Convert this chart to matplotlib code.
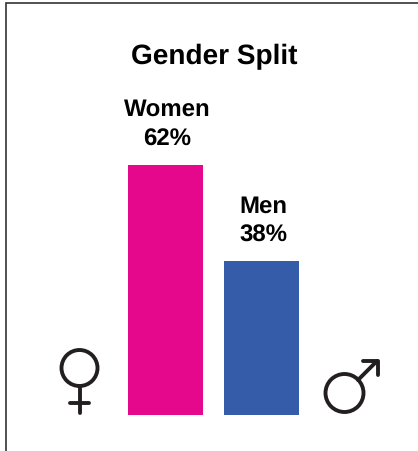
import matplotlib
matplotlib.use("Agg")
import matplotlib.pyplot as plt
from matplotlib.patches import Circle

plt.rcParams['font.family'] = ['Liberation Sans', 'DejaVu Sans']
plt.rcParams['text.hinting'] = 'no_hinting'
plt.rcParams['text.hinting_factor'] = 1

categories = ["Women", "Men"]
shares = [62, 38]
bar_colors = ["#e5078c", "#355ca8"]

W, H = 418, 452
ink = "#231f20"

fig = plt.figure(figsize=(W / 100, H / 100), dpi=100)

# bars on a data axes, baseline and spacing lined up with the picture
ax = fig.add_axes([0, 0, 1, 1])
x_unit = 96.0
y_unit = 4.03
x0 = 165.5
base = 415.5
ax.set_xlim(-x0 / x_unit, (W - x0) / x_unit)
ax.set_ylim(-(H - base) / y_unit, base / y_unit)
ax.axis("off")
positions = range(len(categories))
ax.bar(positions, shares, width=75 / x_unit, color=bar_colors, linewidth=0)

for i, (name, val) in enumerate(zip(categories, shares)):
    ax.annotate(f"{name}\n{val}%", (i, val), xytext=(1.2, 11), textcoords="offset points",
                ha="center", va="bottom", fontsize=17, fontweight="bold",
                color="black", linespacing=1.4)

# overlay in pixels for frame, title and symbols
ov = fig.add_axes([0, 0, 1, 1])
ov.set_xlim(0, W)
ov.set_ylim(H, 0)
ov.axis("off")
ov.patch.set_alpha(0)

ov.plot([6, 6, W], [H, 3.5, 3.5], color="#333333", lw=1.2, solid_joinstyle="miter")
ov.text(214, 64.5, "Gender Split", ha="center", va="baseline", fontsize=20.2,
        fontweight="bold", color="black")

sym = dict(color=ink, lw=2.8, solid_capstyle="round", solid_joinstyle="round")

# female sign
ov.add_patch(Circle((79.5, 369), 18, fill=False, ec=ink, lw=2.8))
ov.plot([79.5, 79.5], [387, 413.5], **sym)
ov.plot([70, 89], [404, 404], **sym)

# male sign
ov.add_patch(Circle((344.5, 394), 19, fill=False, ec=ink, lw=2.8))
ov.plot([358, 377], [381, 362], **sym)
ov.plot([363, 377.5, 377.5], [361.5, 361.5, 376], **sym)

fig.savefig("out.png", dpi=100, facecolor="white")
